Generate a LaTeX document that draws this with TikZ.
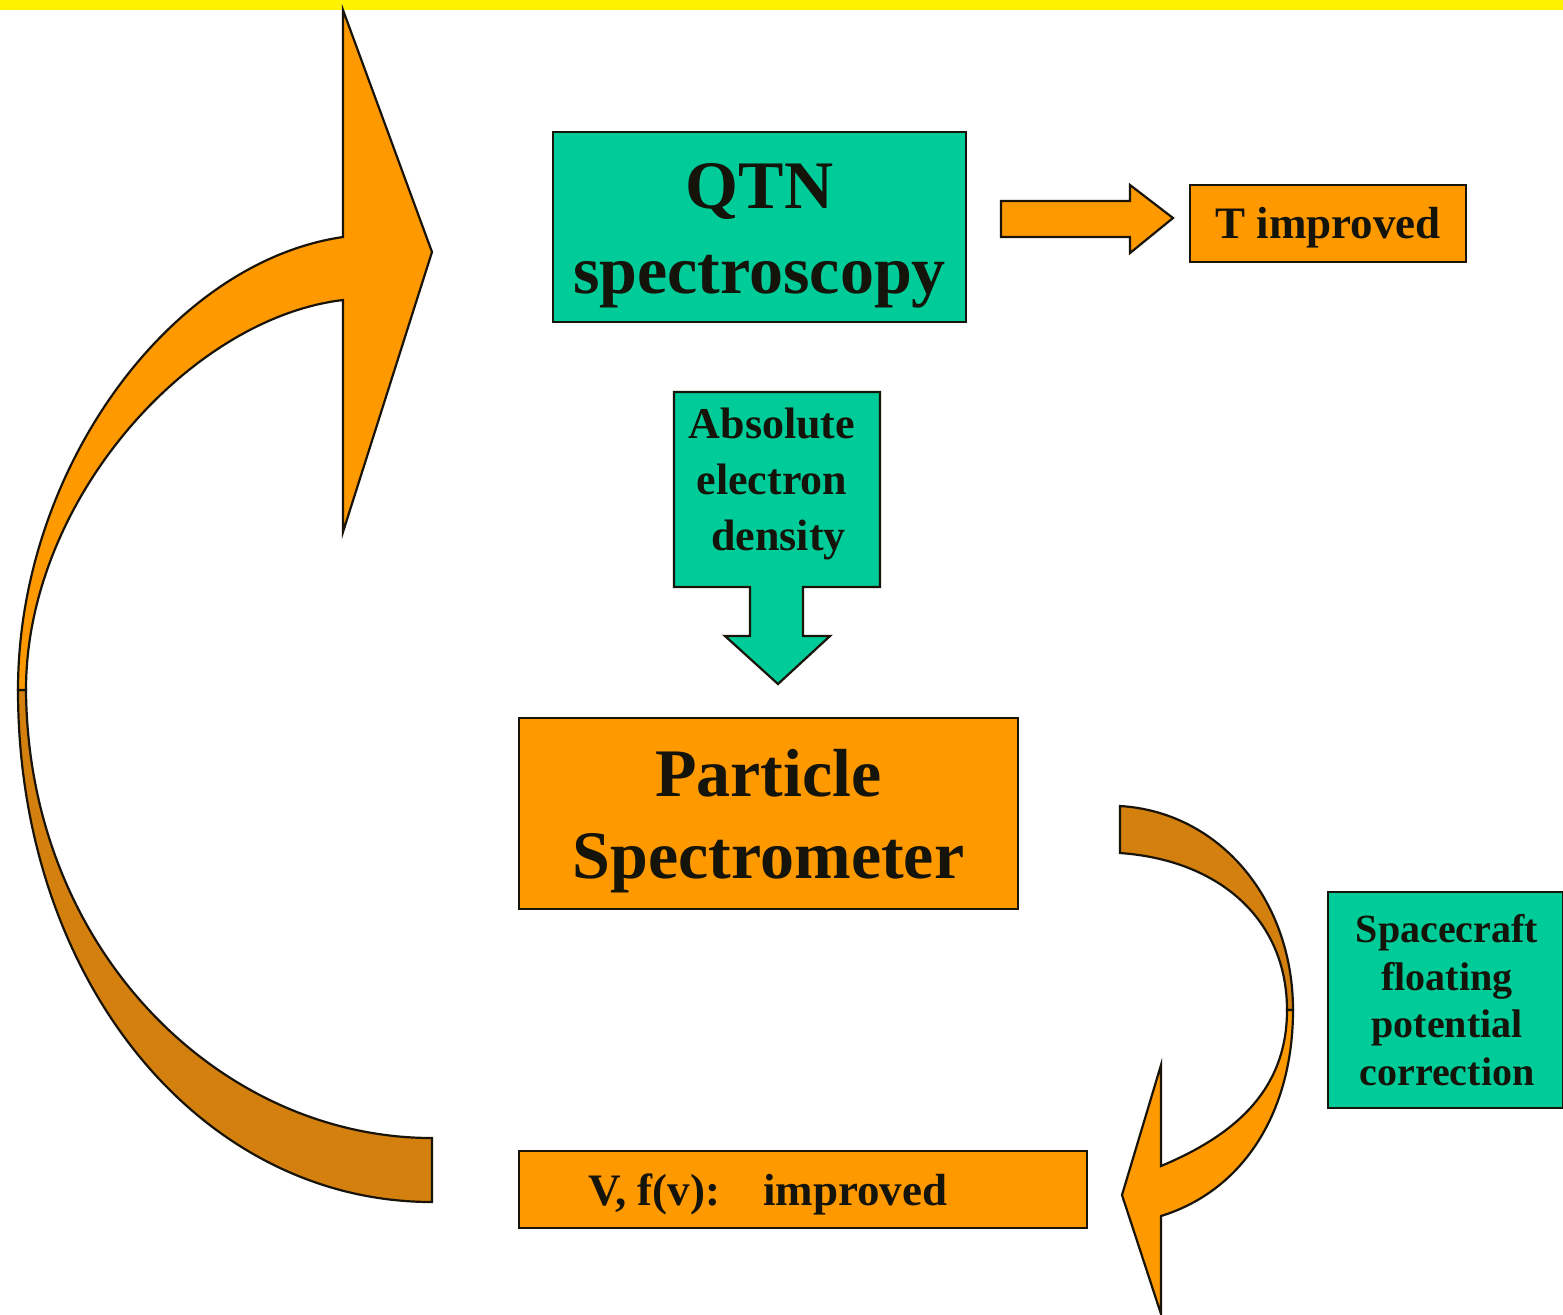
\documentclass[tikz,border=0pt]{standalone}
\usepackage{fontspec}
\setmainfont{Liberation Serif}
\definecolor{qteal}{RGB}{0,204,153}
\definecolor{qorange}{RGB}{255,153,0}
\definecolor{qdark}{RGB}{212,128,14}
\definecolor{qedge}{RGB}{25,20,10}
\definecolor{qtxt}{RGB}{20,20,10}
\begin{document}
\begin{tikzpicture}[x=0.5pt,y=-0.5pt,
  shp/.style={draw=qedge, line width=1.1pt, line join=miter},
  tealbox/.style={shp, fill=qteal, inner sep=0pt},
  orbox/.style={shp, fill=qorange, inner sep=0pt},
  txt/.style={text=qtxt, align=center, inner sep=0pt, font=\bfseries}
]
\useasboundingbox (0,0) rectangle (1563,1314);
\fill[white] (0,0) rectangle (1563,1314);
\fill[yellow] (0,0) rectangle (1563,10);

% big curved arrow (left)
\path[shp, fill=qdark] (18,690) .. controls (18,980) and (200,1202) .. (432,1202)
  -- (432,1138) .. controls (220,1138) and (28,950) .. (26,690) -- cycle;
\path[shp, fill=qorange] (343,10) -- (432,252) -- (343,532) -- (343,300)
  .. controls (190,318) and (26,500) .. (26,690) -- (18,690)
  .. controls (18,470) and (170,262) .. (343,237) -- cycle;

% curved arrow (lower right)
\path[shp, fill=qdark] (1120,806) .. controls (1220,812) and (1293,900) .. (1293,1010)
  -- (1287,1010) .. controls (1287,920) and (1220,860) .. (1120,853) -- cycle;
\path[shp, fill=qorange] (1293,1010) .. controls (1293,1110) and (1245,1190) .. (1161,1216)
  -- (1161,1314) -- (1122,1195) -- (1161,1065) -- (1161,1166)
  .. controls (1235,1135) and (1287,1090) .. (1287,1010) -- cycle;

% boxes
\node[tealbox, minimum width=206.5pt, minimum height=95pt] (qtn) at (759.5,227) {};
\node[txt, font=\bfseries\fontsize{34}{42.5}\selectfont] (qtnt) at (759.5,236) {QTN\\spectroscopy};

\node[orbox, minimum width=138pt, minimum height=38.5pt] (timp) at (1328,223.5) {};
\node[txt, font=\bfseries\fontsize{22.5}{27}\selectfont] (timpt) at (1328,228) {T improved};

\node[orbox, minimum width=249.5pt, minimum height=95.5pt] (ps) at (768.5,813.5) {};
\node[txt, font=\bfseries\fontsize{34}{41}\selectfont] (pst) at (768.5,821) {Particle\\Spectrometer};

\node[orbox, minimum width=284pt, minimum height=38.5pt] (vf) at (803,1189.5) {};
\node[txt, font=\bfseries\fontsize{22.5}{27}\selectfont] (vft) at (768,1194) {V, f(v):\hspace{0.95em}improved};

\node[tealbox, minimum width=117.5pt, minimum height=108pt] (sc) at (1445.5,1000) {};
\node[txt, font=\bfseries\fontsize{20}{23.7}\selectfont] (sct) at (1447,1000) {Spacecraft\\floating\\potential\\correction};

% straight block arrow QTN -> T improved
\path[shp, fill=qorange] (1001,201) -- (1130,201) -- (1130,185) -- (1173,218)
  -- (1130,253) -- (1130,237) -- (1001,237) -- cycle;

% down callout arrow
\path[shp, fill=qteal] (674,392) -- (880,392) -- (880,587) -- (803,587) -- (803,636)
  -- (830,636) -- (778,684) -- (725,636) -- (750,636) -- (750,587) -- (674,587) -- cycle;
\node[txt, font=\bfseries\fontsize{22}{28}\selectfont] (aed) at (772,484) {Absolute\\electron\\\hspace{0.3em}density};
\end{tikzpicture}
\end{document}
